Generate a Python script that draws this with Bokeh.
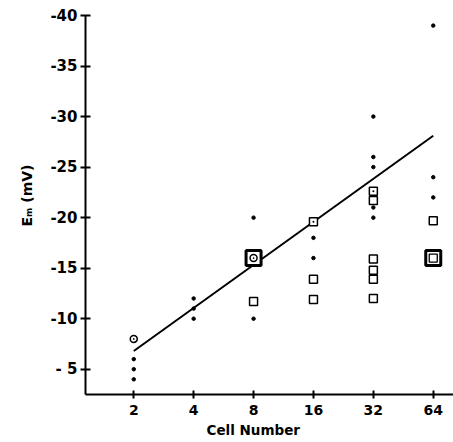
from bokeh.plotting import figure
from bokeh.models import Range1d, FixedTicker, Title
from bokeh.embed import file_html
from bokeh.resources import INLINE

# ---- data ----
cell_ticks = [2, 4, 8, 16, 32, 64]
y_ticks = [-40, -35, -30, -25, -20, -15, -10, -5]
y_tick_labels = ["-40", "-35", "-30", "-25", "-20", "-15", "-10", "- 5"]

dot_x = [2, 2, 2, 4, 4, 4, 8, 8, 16, 16, 32, 32, 32, 32, 32, 64, 64, 64]
dot_y = [-6, -5, -4, -12, -11, -10, -20, -10, -18, -16, -30, -26, -25, -21, -20, -39, -24, -22]

sq_x = [8, 16, 16, 32, 32, 32, 32, 32, 64]
sq_y = [-11.7, -13.9, -11.9, -21.7, -15.9, -14.8, -13.9, -12.0, -19.7]

sqdot_x = [16, 32]
sqdot_y = [-19.6, -22.6]

cdot_x = [2, 8]
cdot_y = [-8, -16]

big_x = [8, 64]
big_y = [-16, -16]

inner_x = [64]
inner_y = [-16]

fit_x = [2, 64]
fit_y = [-6.8, -28.1]

x_title = "Cell Number"
y_title = "E\u2098 (mV)"

FONT = "DejaVu Sans"

p = figure(width=453, height=442, output_backend="svg", toolbar_location=None,
           x_axis_type="log",
           x_range=Range1d(1.144, 80.9), y_range=Range1d(-2.5, -40),
           min_border_left=85, min_border_top=15, min_border_bottom=48,
           min_border_right=0)
p.outline_line_color = None
p.xgrid.visible = False
p.ygrid.visible = False
p.background_fill_color = "white"
p.border_fill_color = "white"

for ax in (p.xaxis, p.yaxis):
    ax.axis_line_width = 2
    ax.axis_line_color = "black"
    ax.major_tick_line_width = 2
    ax.major_tick_line_color = "black"
    ax.minor_tick_line_color = None
    ax.major_label_text_font = FONT
    ax.major_label_text_font_style = "bold"
    ax.major_label_text_font_size = "14px"
    ax.major_label_text_color = "black"

p.yaxis.major_label_text_font_size = "15px"

p.xaxis.ticker = FixedTicker(ticks=cell_ticks)
p.xaxis.major_label_overrides = {t: str(t) for t in cell_ticks}
p.xaxis.major_tick_in = 4
p.xaxis.major_tick_out = 4
p.xaxis.major_label_standoff = 6

p.yaxis.ticker = FixedTicker(ticks=y_ticks)
p.yaxis.major_label_overrides = dict(zip(y_ticks, y_tick_labels))
p.yaxis.major_tick_in = 5
p.yaxis.major_tick_out = 5
p.yaxis.major_label_standoff = 3

# regression line
p.line(fit_x, fit_y, line_color="black", line_width=2)

# big squares (drawn first)
p.scatter(big_x, big_y, marker="square", size=15, fill_color="white",
          line_color="black", line_width=3)
p.scatter(inner_x, inner_y, marker="square", size=8, fill_color="white",
          line_color="black", line_width=1.3)

# small squares
p.scatter(sq_x, sq_y, marker="square", size=8, fill_color="white",
          line_color="black", line_width=1.5)
p.scatter(sqdot_x, sqdot_y, marker="square_dot", size=8, fill_color="white",
          line_color="black", line_width=1.5)

# circled dots
p.scatter(cdot_x, cdot_y, marker="circle_dot", size=7, fill_color="white",
          line_color="black", line_width=1.5)

# small dots
p.scatter(dot_x, dot_y, marker="circle", size=3.5, fill_color="black",
          line_color="black")

# axis titles as side titles (allow an offset like the original)
p.add_layout(Title(text=x_title, align="left", offset=121, standoff=4,
                   text_font=FONT, text_font_style="bold",
                   text_font_size="13.5px", text_color="black"), "below")
p.add_layout(Title(text=y_title, align="left", offset=168, standoff=26,
                   text_font=FONT, text_font_style="bold",
                   text_font_size="14px", text_color="black"), "left")

open("out.html", "w").write(file_html(p, INLINE))
